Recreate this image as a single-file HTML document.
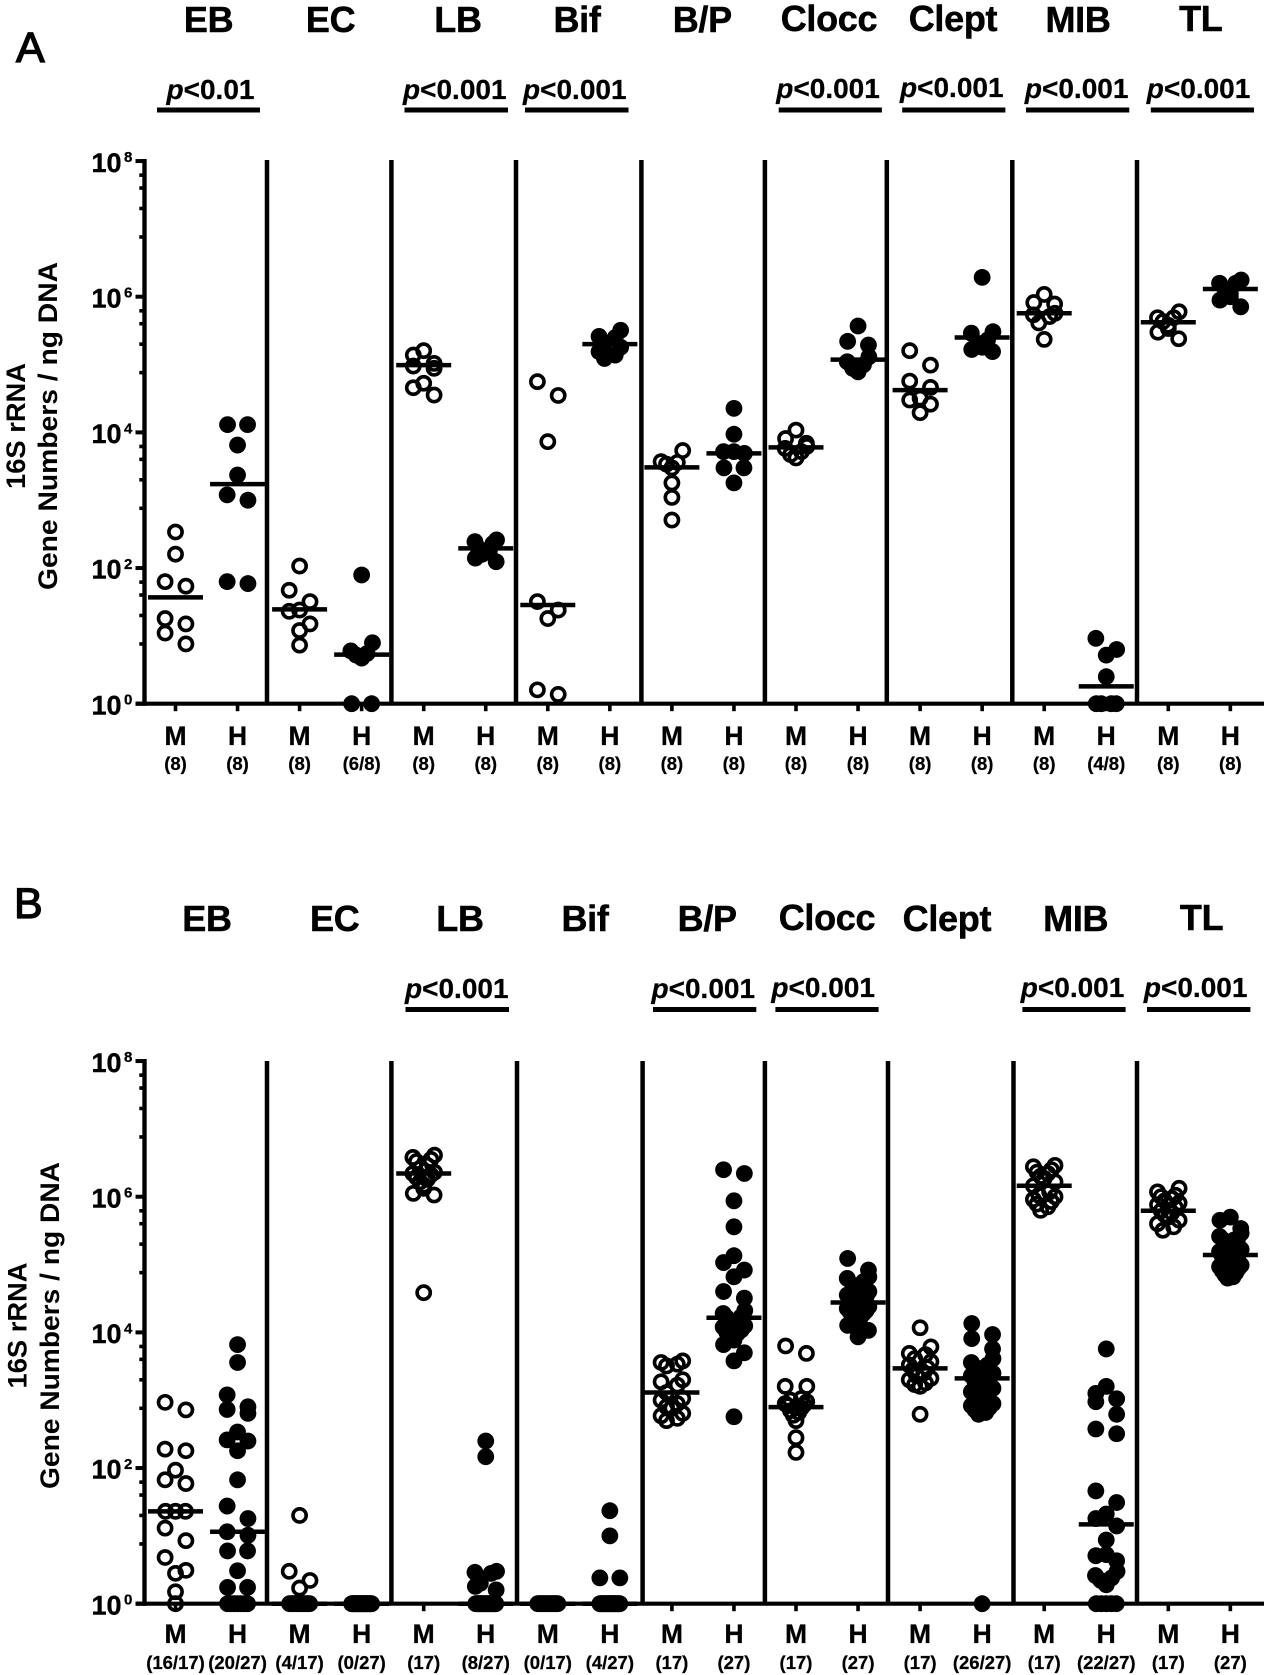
<!DOCTYPE html>
<html lang="en">
<head>
<meta charset="utf-8">
<title>16S rRNA gene numbers by taxon</title>
<style>
html,body{margin:0;padding:0;background:#fff;}
svg{display:block;}
text{font-family:"Liberation Sans",sans-serif;fill:#000;}
.hdr{font-size:36px;font-weight:700;text-anchor:middle;letter-spacing:-0.3px;stroke:#000;stroke-width:.5px;}
.pv{font-size:28px;font-weight:700;stroke:#000;stroke-width:.25px;}
.pv tspan{font-style:italic;}
.ttl{font-size:27px;font-weight:700;text-anchor:middle;}
.tag{font-size:43px;font-weight:400;stroke:#000;stroke-width:1.3px;}
</style>
</head>
<body>
<svg id="figure" xmlns="http://www.w3.org/2000/svg" width="1267" height="1675" viewBox="0 0 1267 1675">
<rect width="1267" height="1675" fill="#fff"/>

<g id="panel-a">
<text class="tag" x="16" y="62">A</text>
<text class="hdr" x="208.6" y="32">EB</text>
<text class="hdr" x="330.6" y="32">EC</text>
<text class="hdr" x="458" y="32">LB</text>
<text class="hdr" x="577" y="32">Bif</text>
<text class="hdr" x="702.3" y="32">B/P</text>
<text class="hdr" x="829" y="31">Clocc</text>
<text class="hdr" x="953" y="31">Clept</text>
<text class="hdr" x="1078" y="32">MIB</text>
<text class="hdr" x="1200.8" y="31">TL</text>

<text class="pv" x="166.5" y="99"><tspan>p</tspan>&lt;0.01</text>
<text class="pv" x="403" y="99"><tspan>p</tspan>&lt;0.001</text>
<text class="pv" x="523" y="99"><tspan>p</tspan>&lt;0.001</text>
<text class="pv" x="776.3" y="98"><tspan>p</tspan>&lt;0.001</text>
<text class="pv" x="900" y="97"><tspan>p</tspan>&lt;0.001</text>
<text class="pv" x="1024.9" y="98"><tspan>p</tspan>&lt;0.001</text>
<text class="pv" x="1146.8" y="98"><tspan>p</tspan>&lt;0.001</text>
<g stroke="#000" stroke-width="5">
<line x1="157" x2="260" y1="110" y2="110"/>
<line x1="404.5" x2="508" y1="110" y2="110"/>
<line x1="525" x2="628.5" y1="110" y2="110"/>
<line x1="778.7" x2="881.9" y1="110" y2="110"/>
<line x1="902.2" x2="1005.4" y1="110" y2="110"/>
<line x1="1026" x2="1129.3" y1="110" y2="110"/>
<line x1="1150.8" x2="1254" y1="110" y2="110"/>
</g>
<text class="ttl" transform="translate(25 426) rotate(-90)" textLength="126" lengthAdjust="spacingAndGlyphs">16S rRNA</text>
<text class="ttl" transform="translate(57 426) rotate(-90)" textLength="328" lengthAdjust="spacingAndGlyphs">Gene Numbers / ng DNA</text>
<g stroke="#000" stroke-width="4.5">
<line x1="267" x2="267" y1="160" y2="704"/>
<line x1="391.4" x2="391.4" y1="160" y2="704"/>
<line x1="516" x2="516" y1="160" y2="704"/>
<line x1="641.4" x2="641.4" y1="160" y2="704"/>
<line x1="764.9" x2="764.9" y1="160" y2="704"/>
<line x1="886.8" x2="886.8" y1="160" y2="704"/>
<line x1="1012.3" x2="1012.3" y1="160" y2="704"/>
<line x1="1137" x2="1137" y1="160" y2="704"/>
</g>
</g>

<g id="panel-b">
<text class="tag" x="14" y="918">B</text>
<text class="hdr" x="207" y="931">EB</text>
<text class="hdr" x="334.7" y="931">EC</text>
<text class="hdr" x="460" y="931">LB</text>
<text class="hdr" x="585" y="931">Bif</text>
<text class="hdr" x="707.2" y="931">B/P</text>
<text class="hdr" x="827" y="930">Clocc</text>
<text class="hdr" x="946.9" y="931">Clept</text>
<text class="hdr" x="1075.7" y="931">MIB</text>
<text class="hdr" x="1201.6" y="930">TL</text>

<text class="pv" x="405" y="998"><tspan>p</tspan>&lt;0.001</text>
<text class="pv" x="651.5" y="998"><tspan>p</tspan>&lt;0.001</text>
<text class="pv" x="771.4" y="997"><tspan>p</tspan>&lt;0.001</text>
<text class="pv" x="1020.8" y="997"><tspan>p</tspan>&lt;0.001</text>
<text class="pv" x="1143.9" y="997"><tspan>p</tspan>&lt;0.001</text>
<g stroke="#000" stroke-width="5">
<line x1="405.5" x2="509" y1="1009.5" y2="1009.5"/>
<line x1="653" x2="756.3" y1="1009.5" y2="1009.5"/>
<line x1="775.4" x2="878.6" y1="1009.5" y2="1009.5"/>
<line x1="1022.4" x2="1125.6" y1="1009.5" y2="1009.5"/>
<line x1="1147" x2="1250.4" y1="1009.5" y2="1009.5"/>
</g>
<text class="ttl" transform="translate(26.5 1325.5) rotate(-90)" textLength="126" lengthAdjust="spacingAndGlyphs">16S rRNA</text>
<text class="ttl" transform="translate(59 1325.5) rotate(-90)" textLength="327" lengthAdjust="spacingAndGlyphs">Gene Numbers / ng DNA</text>
<g stroke="#000" stroke-width="4.5">
<line x1="267" x2="267" y1="1061" y2="1604"/>
<line x1="391.4" x2="391.4" y1="1061" y2="1604"/>
<line x1="517" x2="517" y1="1061" y2="1604"/>
<line x1="642.6" x2="642.6" y1="1061" y2="1604"/>
<line x1="764.9" x2="764.9" y1="1061" y2="1604"/>
<line x1="888" x2="888" y1="1061" y2="1604"/>
<line x1="1013.5" x2="1013.5" y1="1061" y2="1604"/>
<line x1="1137" x2="1137" y1="1061" y2="1604"/>
</g>
</g>
</svg>

<script>
// ---------- tick labels ----------
const yTickExponents = [8, 6, 4, 2, 0];
const yMinorFactors = [7.6, 20, 40, 62];
const groupLabels = ["M","H","M","H","M","H","M","H","M","H","M","H","M","H","M","H","M","H"];

// ---------- panel A ----------
const countsA = ["(8)","(8)","(8)","(6/8)","(8)","(8)","(8)","(8)","(8)","(8)","(8)","(8)","(8)","(8)","(8)","(4/8)","(8)","(8)"];
const centerLinesA = [3.7e1,1.73e3,2.46e1,5.3,9.8e4,1.95e2,2.85e1,2.0e5,3.05e3,4.9e3,6e3,1.18e5,4.2e4,2.5e5,5.7e5,1.8,4.2e5,1.3e6];
const aEbM = [3.4e2,1.6e2,6.3e1,5.4e1,1.8e1,1.5e1,1.1e1,7.6];
const aEbH = [1.3e4,1.3e4,6.5e3,2.35e3,1.2e3,1.0e3,6.3e1,5.9e1];
const aEcM = [1.07e2,4.7e1,3.2e1,2.4e1,2.3e1,1.5e1,1.2e1,7.3];
const aEcH = [7.9e1,7.9,6.0,5.5,5.2,4.7,1,1];
const aLbM = [1.6e5,1.38e5,1.04e5,9.5e4,8.8e4,5.3e4,4.55e4,3.55e4];
const aLbH = [2.6e2,2.45e2,2.3e2,1.95e2,1.8e2,1.6e2,1.4e2,1.24e2];
const aBifM = [5.6e4,3.5e4,7.3e3,3.2e1,2.4e1,1.8e1,1.6,1.37];
const aBifH = [3.2e5,2.6e5,2.5e5,2.05e5,1.8e5,1.55e5,1.38e5,1.23e5];
const aBpM = [5.4e3,3.7e3,3.6e3,3.4e3,3e3,1.8e3,1.1e3,5.1e2];
const aBpH = [2.26e4,9.4e3,5.2e3,5.2e3,4.9e3,3e3,3e3,1.8e3];
const aCloccM = [1.08e4,8.1e3,6.9e3,6.2e3,5.8e3,5.2e3,4.7e3,4.2e3];
const aCloccH = [3.7e5,2.2e5,1.94e5,1.3e5,1.1e5,9.9e4,8.8e4,7.8e4];
const aCleptM = [1.6e5,9.8e4,5.7e4,4.6e4,3.2e4,3e4,2.6e4,1.95e4];
const aCleptH = [1.93e6,3.05e5,2.9e5,2.3e5,2e5,1.8e5,1.67e5,1.55e5];
const aMibM = [1.08e6,8.2e5,7.8e5,5.7e5,5.4e5,5.1e5,4.1e5,2.35e5];
const aMibH = [9.2,6.3,5.2,2.5,1,1,1,1];
const aTlM = [6e5,4.9e5,4.9e5,4.3e5,3.8e5,3.4e5,3e5,2.4e5];
const aTlH = [1.76e6,1.58e6,1.58e6,1.3e6,1.12e6,1e6,8.9e5,7.1e5];

// ---------- panel B ----------
const countsB = ["(16/17)","(20/27)","(4/17)","(0/27)","(17)","(8/27)","(0/17)","(4/27)","(17)","(27)","(17)","(27)","(17)","(26/27)","(17)","(22/27)","(17)","(27)"];
const centerLinesB = [2.3e1,1.15e1,1,1,2.2e6,1,1,1,1.3e3,1.64e4,7.9e2,2.76e4,2.95e3,2.1e3,1.45e6,1.48e1,6.2e5,1.38e5];
const bEbM = [9.3e2,7.2e2,1.9e2,1.8e2,9.3e1,6.7e1,5.9e1,2.3e1,2.3e1,2.3e1,1.3e1,8.5,4.8,3.1,2.8,1.5,1];
const bEbH = [6.6e3,3.6e3,1.2e3,8e2,7.3e2,6.4e2,3.4e2,2.6e2,2.5e2,1.8e2,6.7e1,2.75e1,1.8e1,1.15e1,1.02e1,6,6,3.06,1.74,1.74,1,1,1,1,1,1,1];
const bEcM = [2e1,3,2.2,1.7,1,1,1,1,1,1,1,1,1,1,1,1,1];
const bEcH = [1,1,1,1,1,1,1,1,1,1,1,1,1,1,1,1,1,1,1,1,1,1,1,1,1,1,1];
const bLbM = [4.1e6,3.8e6,3.55e6,3.3e6,2.9e6,2.6e6,2.3e6,2.2e6,2.1e6,1.93e6,1.8e6,1.66e6,1.48e6,1.33e6,1.12e6,1.06e6,3.85e4];
const bLbH = [2.5e2,1.47e2,3,2.9,2.8,2,1.8,1.6,1,1,1,1,1,1,1,1,1,1,1,1,1,1,1,1,1,1,1];
const bBifM = [1,1,1,1,1,1,1,1,1,1,1,1,1,1,1,1,1];
const bBifH = [2.35e1,1e1,2.4,2.4,1,1,1,1,1,1,1,1,1,1,1,1,1,1,1,1,1,1,1,1,1,1,1];
const bBpM = [3.8e3,3.6e3,3.4e3,3.2e3,2e3,1.87e3,1.67e3,1.3e3,1.06e3,1e3,8.9e2,8e2,7.6e2,6.4e2,5.9e2,5.4e2,5e2];
const bBpH = [2.5e6,2.2e6,8.7e5,3.6e5,1.35e5,1.07e5,8.3e4,6.6e4,4e4,3.2e4,2.1e4,1.9e4,1.7e4,1.64e4,1.5e4,1.35e4,1.25e4,1.2e4,1.08e4,1e4,9.7e3,8.6e3,7.7e3,6.6e3,5e3,3.8e3,5.7e2];
const bCloccM = [6.3e3,4.9e3,1.6e3,1.6e3,1.06e3,1e3,9.5e2,8.9e2,8.6e2,8.3e2,7.7e2,7e2,6.6e2,6e2,5e2,2.8e2,1.7e2];
const bCloccH = [1.23e5,8.3e4,6.6e4,6.25e4,5.6e4,5e4,4.5e4,4e4,3.55e4,3.4e4,3.2e4,3e4,2.76e4,2.7e4,2.5e4,2.4e4,2.25e4,2.1e4,2e4,1.9e4,1.8e4,1.7e4,1.6e4,1.43e4,1.27e4,1.07e4,8.6e3];
const bCleptM = [1.17e4,6.1e3,4.9e3,4.7e3,4.1e3,3.7e3,3.3e3,3e3,2.8e3,2.5e3,2.3e3,2.1e3,2e3,1.8e3,1.7e3,1.6e3,6.2e2];
const bCleptH = [1.35e4,9.3e3,8.1e3,5.7e3,4.1e3,3.6e3,3.3e3,3e3,2.7e3,2.5e3,2.3e3,2.1e3,1.9e3,1.8e3,1.6e3,1.5e3,1.33e3,1.2e3,1.1e3,9.8e2,8.9e2,8.3e2,7.8e2,7.2e2,6.6e2,6.2e2,1];
const bMibM = [2.9e6,2.76e6,2.5e6,2.3e6,2.2e6,2e6,1.86e6,1.66e6,1.45e6,1.18e6,1.05e6,1e6,9.1e5,8.5e5,7.8e5,7.1e5,6.3e5];
const bMibH = [5.7e3,1.6e3,1.26e3,1.05e3,9.5e2,6.2e2,3.76e2,3.2e2,4.6e1,3.1e1,2.1e1,1.8e1,1.4e1,8.7,5.3,5.1,4.3,3,2.6,2.4,2.2,1.9,1,1,1,1,1];
const bTlM = [1.33e6,1.18e6,1.05e6,1e6,9.4e5,8.7e5,8.1e5,7.6e5,6.9e5,6.2e5,5.8e5,5.4e5,5e5,4.5e5,4e5,3.6e5,3.2e5];
const bTlH = [5e5,4.5e5,3.4e5,2.9e5,2.6e5,2.4e5,2.3e5,2.3e5,2e5,1.8e5,1.67e5,1.55e5,1.43e5,1.33e5,1.25e5,1.23e5,1.16e5,1.1e5,1.05e5,9.8e4,9.3e4,8.8e4,8.1e4,7.6e4,7.1e4,6.6e4,6.3e4];

const seriesA = [aEbM,aEbH,aEcM,aEcH,aLbM,aLbH,aBifM,aBifH,aBpM,aBpH,aCloccM,aCloccH,aCleptM,aCleptH,aMibM,aMibH,aTlM,aTlH];
const seriesB = [bEbM,bEbH,bEcM,bEcH,bLbM,bLbH,bBifM,bBifH,bBpM,bBpH,bCloccM,bCloccH,bCleptM,bCleptH,bMibM,bMibH,bTlM,bTlH];

// ---------- axis functions ----------
const NS = "http://www.w3.org/2000/svg";
function xScale(i) { return 175.5 + 62.05 * i; }
function makeYScale(baseY) {
  return function (v) { return baseY - 67.83 * Math.log10(v); };
}
function add(parent, tag, attrs, txt) {
  const node = document.createElementNS(NS, tag);
  for (const k in attrs) node.setAttribute(k, attrs[k]);
  if (txt !== undefined) node.textContent = txt;
  parent.appendChild(node);
  return node;
}

// Prism-style swarm: values sharing a vertical bin spread out from the centre,
// squeezed into a narrow column when a bin is crowded.
function swarmOffsets(ys, floorY) {
  const order = ys.map(function (y, i) { return { y: y, i: i }; }).sort(function (a, b) { return a.y - b.y; });
  const out = new Array(ys.length).fill(0);
  let k = 0;
  while (k < order.length) {
    const start = order[k].y;
    let j = k;
    while (j < order.length && order[j].y - start < 14.5 &&
           !(order[j].y >= floorY - 0.01 && start < floorY - 0.01)) j++;
    const bin = order.slice(k, j);
    const m = bin.length;
    let slots = [];
    if (m % 2 === 1) slots.push(0);
    for (let s = 1; slots.length < m; s++) { slots.push(-s); slots.push(s); }
    if (m >= 4) slots = slots.reverse();
    let maxSlot = 0;
    slots.forEach(function (s) { maxSlot = Math.max(maxSlot, Math.abs(s)); });
    const same = bin[m - 1].y - bin[0].y < 0.5;
    const cap = same ? 10 : 10.8;
    const step = maxSlot ? Math.min(10.4, cap / maxSlot) : 0;
    bin.forEach(function (p, t) { out[p.i] = slots[t] * step; });
    k = j;
  }
  return out;
}

function drawPanel(panelId, key, baseY, series, centers, counts, labelY, countY) {
  const root = document.getElementById(panelId);
  const y = makeYScale(baseY);

  // y axis
  const axisY = add(root, "g", {});
  
  
  const spine = add(axisY, "line", { x1: 144.5, x2: 144.5, y1: y(1e8) - 2, y2: y(1) + 2, stroke: "#000", "stroke-width": 4.4 });
  
  
  yTickExponents.forEach(function (e) {
    const v = Math.pow(10, e);
    const tick = add(axisY, "line", { x1: 135.5, x2: 145, y1: y(v), y2: y(v), stroke: "#000", "stroke-width": 4 });
    
    
    const base = add(axisY, "text", { x: 91.5, y: y(v) + 10.7, "font-size": 27, "font-weight": 700, stroke: "#000", "stroke-width": 0.4 }, "10");
    
    
    const sup = add(axisY, "text", { x: 124, y: y(v) + 0.9, "font-size": 15, "font-weight": 700, stroke: "#000", "stroke-width": 0.3 }, String(e));
    
    
    if (e > 0) {
      yMinorFactors.forEach(function (f) {
        const mv = f * Math.pow(10, e - 2);
        const minor = add(axisY, "line", { x1: 139.3, x2: 145, y1: y(mv), y2: y(mv), stroke: "#000", "stroke-width": 3.6 });
        
        
      });
    }
  });

  // x axis
  const axisX = add(root, "g", {});
  
  
  const xline = add(axisX, "line", { x1: 135.5, x2: 1264, y1: y(1), y2: y(1), stroke: "#000", "stroke-width": 4.2 });
  
  
  groupLabels.forEach(function (lab, i) {
    const tick = add(axisX, "line", { x1: xScale(i), x2: xScale(i), y1: y(1), y2: y(1) + 7.5, stroke: "#000", "stroke-width": 3.6 });
    
    
    const t = add(axisX, "text", { x: xScale(i), y: labelY, "font-size": 26.5, "font-weight": 700, "text-anchor": "middle", stroke: "#000", "stroke-width": 0.3 }, lab);
    
    
    const c = add(axisX, "text", { x: xScale(i), y: countY, "font-size": 18.5, "font-weight": 700, "text-anchor": "middle", stroke: "#000", "stroke-width": 0.25 }, counts[i]);
    
    
  });

  // series
  series.forEach(function (vals, i) {
    const isHealthy = groupLabels[i] === "H";
    const group = add(root, "g", {});
    
    
    const ys = vals.map(y);
    const offs = swarmOffsets(ys, y(1));
    vals.forEach(function (v, n) {
      const attrs = isHealthy
        ? { cx: xScale(i) + offs[n], cy: ys[n], r: 8.4, fill: "#000" }
        : { cx: xScale(i) + offs[n], cy: ys[n], r: 6.6, fill: "none", stroke: "#000", "stroke-width": 3.6 };
      const pt = add(group, "circle", attrs);
      
      
    });
    const ml = add(group, "line", { x1: xScale(i) - 27.5, x2: xScale(i) + 27.5, y1: y(centers[i]), y2: y(centers[i]), stroke: "#000", "stroke-width": 4.5 });
    
    
  });
}

drawPanel("panel-a", "a", 703.7, seriesA, centerLinesA, countsA, 745, 770);
drawPanel("panel-b", "b", 1603.7, seriesB, centerLinesB, countsB, 1643, 1669);
</script>
</body>
</html>
